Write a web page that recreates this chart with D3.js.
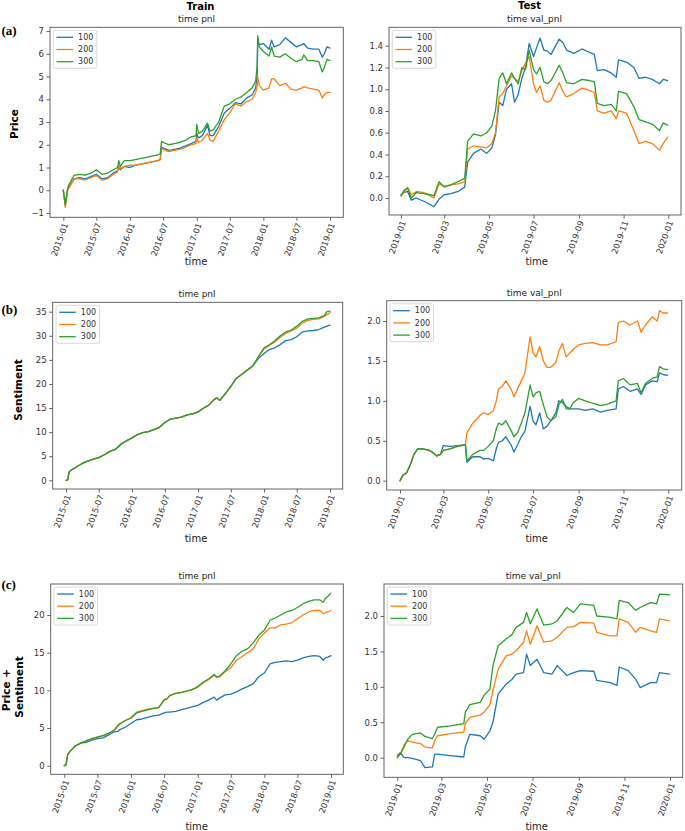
<!DOCTYPE html>
<html><head><meta charset="utf-8">
<script src="https://cdn.jsdelivr.net/npm/d3@7"></script>
<style>body{margin:0;background:#fff}svg{display:block}</style>
</head><body><svg id="c" width="685" height="831"></svg>
<script>
const seriesNames = ["100","200","300"];
const seriesColors = ["#1f77b4","#ff7f0e","#2ca02c"];

const trainTickDates = ["2015-01-01","2015-07-01","2016-01-01","2016-07-01","2017-01-01","2017-07-01","2018-01-01","2018-07-01","2019-01-01"];
const trainTickLabels = ["2015-01","2015-07","2016-01","2016-07","2017-01","2017-07","2018-01","2018-07","2019-01"];
const testTickDates = ["2019-01-01","2019-03-01","2019-05-01","2019-07-01","2019-09-01","2019-11-01","2020-01-01"];
const testTickLabels = ["2019-01","2019-03","2019-05","2019-07","2019-09","2019-11","2020-01"];

const priceTrainYTicks = [-1,0,1,2,3,4,5,6,7];
const priceTrainYLabels = ["\u22121","0","1","2","3","4","5","6","7"];
const priceTestYTicks = [0,0.2,0.4,0.6,0.8,1.0,1.2,1.4];
const priceTestYLabels = ["0.0","0.2","0.4","0.6","0.8","1.0","1.2","1.4"];
const sentTrainYTicks = [0,5,10,15,20,25,30,35];
const sentTrainYLabels = ["0","5","10","15","20","25","30","35"];
const sentTestYTicks = [0,0.5,1.0,1.5,2.0];
const sentTestYLabels = ["0.0","0.5","1.0","1.5","2.0"];
const psTrainYTicks = [0,5,10,15,20];
const psTrainYLabels = ["0","5","10","15","20"];
const psTestYTicks = [0,0.5,1.0,1.5,2.0];
const psTestYLabels = ["0.0","0.5","1.0","1.5","2.0"];

// (a) Price - Train
const trainPriceDates = ["2015-01-01","2015-01-12","2015-01-25","2015-02-01","2015-03-01","2015-04-01","2015-05-01","2015-06-01","2015-07-01","2015-08-01","2015-09-01","2015-10-01","2015-10-25","2015-11-01","2015-11-10","2015-12-01","2016-01-01","2016-02-01","2016-03-01","2016-04-01","2016-05-01","2016-06-01","2016-06-15","2016-06-22","2016-07-01","2016-08-01","2016-09-01","2016-10-01","2016-11-01","2016-12-01","2016-12-28","2017-01-01","2017-01-10","2017-02-01","2017-03-01","2017-03-15","2017-04-01","2017-05-01","2017-06-01","2017-07-01","2017-08-01","2017-09-01","2017-10-01","2017-11-01","2017-11-20","2017-11-28","2017-12-01","2017-12-10","2018-01-01","2018-02-01","2018-02-15","2018-03-01","2018-04-01","2018-05-01","2018-06-01","2018-07-01","2018-08-01","2018-08-10","2018-09-01","2018-10-01","2018-11-01","2018-11-20","2018-12-01","2018-12-15","2019-01-01"];
const trainPrice100 = [0,-0.6,0.05,0.15,0.5,0.55,0.5,0.6,0.7,0.5,0.55,0.75,0.85,1.0,0.9,1.05,1.0,1.1,1.15,1.2,1.25,1.3,1.35,1.9,1.85,1.75,1.8,1.85,1.95,2.05,2.15,2.5,2.3,2.4,2.85,2.4,2.4,2.8,3.4,3.6,3.85,3.8,4.05,4.2,4.5,5.0,6.5,6.4,6.45,6.2,6.6,6.3,6.4,6.7,6.5,6.3,6.4,6.45,6.25,6.2,6.2,5.85,6.0,6.3,6.25];
const trainPrice200 = [0,-0.75,0.0,0.1,0.5,0.5,0.45,0.55,0.65,0.45,0.5,0.7,0.8,1.1,0.95,1.05,1.1,1.1,1.15,1.2,1.25,1.3,1.35,1.85,1.8,1.7,1.75,1.8,1.9,2.0,2.05,2.3,2.1,2.2,2.5,2.2,2.15,2.6,3.1,3.4,3.8,3.7,3.9,4.0,4.3,4.6,5.0,4.6,4.4,4.5,4.9,4.9,4.6,4.7,4.45,4.4,4.5,4.55,4.5,4.45,4.4,4.05,4.2,4.3,4.3];
const trainPrice300 = [0,-0.65,0.1,0.25,0.65,0.7,0.67,0.75,0.9,0.7,0.75,0.9,1.0,1.3,1.05,1.3,1.3,1.35,1.4,1.45,1.5,1.55,1.6,2.15,2.1,2.0,2.05,2.1,2.2,2.35,2.4,2.9,2.5,2.6,2.95,2.6,2.65,3.0,3.7,3.8,4.0,4.1,4.3,4.5,4.8,5.5,6.8,6.3,6.1,5.9,6.3,5.9,5.85,6.0,5.8,5.65,5.75,5.95,5.7,5.7,5.65,5.2,5.4,5.75,5.7];

// (a) Price - Test
const testPriceDates = ["2019-01-01","2019-01-05","2019-01-10","2019-01-15","2019-01-22","2019-02-01","2019-02-10","2019-02-15","2019-02-22","2019-03-01","2019-03-10","2019-03-20","2019-03-29","2019-04-02","2019-04-10","2019-04-20","2019-04-28","2019-05-05","2019-05-10","2019-05-15","2019-05-20","2019-05-25","2019-06-01","2019-06-05","2019-06-10","2019-06-15","2019-06-20","2019-06-25","2019-07-01","2019-07-05","2019-07-10","2019-07-15","2019-07-20","2019-07-25","2019-08-05","2019-08-10","2019-08-15","2019-08-25","2019-09-05","2019-09-15","2019-09-22","2019-09-26","2019-10-05","2019-10-15","2019-10-22","2019-10-25","2019-11-05","2019-11-15","2019-11-22","2019-12-01","2019-12-10","2019-12-20","2019-12-25","2019-12-31"];
const testPrice100 = [0.03,0.05,0.06,-0.02,0.0,-0.03,-0.06,-0.08,-0.01,0.03,0.04,0.06,0.1,0.33,0.41,0.45,0.41,0.46,0.58,0.88,0.85,1.0,1.05,0.88,0.95,1.1,1.2,1.42,1.3,1.38,1.47,1.36,1.35,1.32,1.46,1.43,1.36,1.33,1.37,1.34,1.32,1.17,1.18,1.15,1.11,1.27,1.25,1.2,1.1,1.11,1.09,1.05,1.09,1.08];
const testPrice200 = [0.02,0.05,0.1,0.03,0.06,0.05,0.02,0.0,0.13,0.11,0.12,0.13,0.15,0.45,0.48,0.47,0.46,0.5,0.6,0.93,0.96,1.03,1.12,1.1,1.07,1.17,1.24,1.3,1.05,0.97,1.03,0.9,0.88,0.9,1.06,0.98,0.93,0.96,1.01,0.99,0.97,0.8,0.78,0.8,0.73,0.8,0.78,0.62,0.5,0.52,0.5,0.44,0.5,0.56];
const testPrice300 = [0.02,0.07,0.09,0.0,0.05,0.04,0.03,0.02,0.15,0.1,0.12,0.15,0.18,0.52,0.59,0.57,0.6,0.66,0.8,1.1,1.15,1.05,1.15,1.1,1.05,1.2,1.18,1.36,1.18,1.14,1.2,1.07,1.05,1.08,1.22,1.15,1.06,1.05,1.09,1.08,1.07,0.87,0.85,0.86,0.8,0.98,0.96,0.84,0.72,0.7,0.68,0.62,0.69,0.67];

// (b) Sentiment - Train
const trainSentDates = ["2015-01-01","2015-01-10","2015-01-18","2015-02-01","2015-03-01","2015-04-01","2015-05-01","2015-06-01","2015-07-01","2015-08-01","2015-09-01","2015-10-01","2015-11-01","2015-12-01","2016-01-01","2016-02-01","2016-03-01","2016-04-01","2016-05-01","2016-06-01","2016-07-01","2016-08-01","2016-09-01","2016-10-01","2016-11-01","2016-12-01","2017-01-01","2017-02-01","2017-03-01","2017-04-01","2017-04-15","2017-05-01","2017-06-01","2017-07-01","2017-08-01","2017-09-01","2017-10-01","2017-11-01","2017-12-01","2018-01-01","2018-02-01","2018-03-01","2018-04-01","2018-05-01","2018-06-01","2018-07-01","2018-08-01","2018-09-01","2018-10-01","2018-11-01","2018-12-01","2018-12-15","2019-01-01"];
const trainSent100 = [0,0.1,1.7,2.2,2.8,3.5,4.0,4.4,4.7,5.3,6.0,6.4,7.5,8.2,8.8,9.5,9.9,10.1,10.5,11.0,12.0,12.7,12.9,13.1,13.6,13.8,14.2,15.0,15.6,16.8,17.1,16.6,18.0,19.5,21.2,22.0,22.9,23.8,25.3,26.3,27.2,27.5,28.2,29.0,29.2,29.8,30.8,31.0,31.1,31.3,31.8,32.0,32.2];
const trainSent200 = [0,0.1,1.7,2.2,2.8,3.5,4.0,4.4,4.7,5.3,6.0,6.4,7.5,8.2,8.8,9.5,9.9,10.1,10.5,11.0,12.0,12.7,12.9,13.1,13.6,13.8,14.2,15.0,15.6,16.8,17.1,16.6,18.0,19.5,21.2,22.0,22.9,23.8,25.6,27.3,28.0,28.7,29.7,30.5,31.0,31.6,32.6,33.2,33.4,33.5,34.0,34.4,34.8];
const trainSent300 = [0,0.1,1.7,2.2,2.8,3.5,4.0,4.4,4.7,5.3,6.0,6.4,7.5,8.2,8.8,9.5,9.9,10.1,10.5,11.0,12.0,12.7,12.9,13.1,13.6,13.8,14.2,15.0,15.6,16.8,17.1,16.6,18.0,19.5,21.2,22.0,22.9,23.8,25.7,27.5,28.2,28.9,30.0,30.8,31.2,32.0,33.0,33.5,33.6,33.7,34.2,35.0,35.1];

// (b) Sentiment - Test
const testSentDates = ["2019-01-01","2019-01-05","2019-01-10","2019-01-15","2019-01-20","2019-01-25","2019-02-01","2019-02-10","2019-02-15","2019-02-20","2019-02-25","2019-03-01","2019-03-10","2019-03-20","2019-03-31","2019-04-02","2019-04-10","2019-04-20","2019-04-25","2019-05-01","2019-05-08","2019-05-12","2019-05-15","2019-05-20","2019-05-25","2019-06-01","2019-06-05","2019-06-10","2019-06-15","2019-06-20","2019-06-27","2019-07-01","2019-07-05","2019-07-10","2019-07-15","2019-07-20","2019-07-25","2019-08-01","2019-08-05","2019-08-10","2019-08-15","2019-08-20","2019-08-25","2019-09-01","2019-09-10","2019-09-20","2019-10-01","2019-10-10","2019-10-22","2019-10-25","2019-11-01","2019-11-10","2019-11-20","2019-11-25","2019-12-01","2019-12-10","2019-12-17","2019-12-20","2019-12-25","2019-12-31"];
const testSent100 = [0.0,0.07,0.1,0.2,0.33,0.4,0.4,0.38,0.35,0.31,0.33,0.44,0.43,0.44,0.45,0.23,0.3,0.3,0.27,0.28,0.25,0.4,0.48,0.5,0.55,0.45,0.36,0.45,0.55,0.62,0.93,0.75,0.7,0.85,0.65,0.68,0.75,0.85,1.0,0.98,0.93,0.9,0.9,0.9,0.88,0.9,0.86,0.88,0.9,1.15,1.18,1.12,1.15,1.08,1.2,1.25,1.24,1.35,1.33,1.32];
const testSent200 = [0.0,0.07,0.1,0.2,0.33,0.4,0.4,0.38,0.35,0.31,0.33,0.38,0.4,0.43,0.45,0.6,0.72,0.82,0.85,0.83,0.88,1.0,1.15,1.18,1.25,1.15,1.05,1.15,1.25,1.35,1.8,1.6,1.55,1.68,1.5,1.42,1.42,1.48,1.62,1.72,1.55,1.6,1.65,1.7,1.72,1.73,1.7,1.7,1.74,1.98,2.0,1.95,2.0,1.86,1.95,2.05,2.0,2.13,2.1,2.1];
const testSent300 = [0.0,0.07,0.1,0.2,0.33,0.4,0.4,0.38,0.35,0.31,0.33,0.38,0.4,0.43,0.45,0.25,0.33,0.38,0.38,0.43,0.5,0.65,0.72,0.7,0.75,0.63,0.55,0.6,0.72,0.85,1.2,1.05,1.1,1.12,0.95,0.8,0.75,0.8,0.95,1.02,0.9,0.9,0.98,1.03,1.0,0.97,0.94,0.96,1.0,1.25,1.28,1.2,1.22,1.1,1.22,1.28,1.3,1.43,1.4,1.39];

// (c) Price + Sentiment - Train
const trainPSDates = ["2015-01-01","2015-01-10","2015-01-20","2015-02-01","2015-03-01","2015-04-01","2015-05-01","2015-06-01","2015-07-01","2015-08-01","2015-09-01","2015-10-01","2015-10-25","2015-11-01","2015-12-01","2016-01-01","2016-02-01","2016-03-01","2016-04-01","2016-05-01","2016-06-01","2016-07-01","2016-07-15","2016-08-01","2016-09-01","2016-10-01","2016-11-01","2016-12-01","2017-01-01","2017-02-01","2017-03-01","2017-04-01","2017-04-15","2017-05-01","2017-06-01","2017-07-01","2017-08-01","2017-09-01","2017-10-01","2017-11-01","2017-12-01","2018-01-01","2018-02-01","2018-03-01","2018-04-01","2018-05-01","2018-06-01","2018-07-01","2018-08-01","2018-09-01","2018-10-01","2018-11-01","2018-11-20","2018-12-01","2018-12-15","2019-01-01"];
const trainPS100 = [0,0.1,1.5,1.9,2.6,3.0,3.1,3.4,3.6,3.7,4.1,4.5,4.6,4.8,5.1,5.6,6.1,6.2,6.4,6.6,6.7,7.0,7.1,7.1,7.2,7.4,7.6,7.8,8.0,8.4,8.7,9.1,8.7,9.0,9.4,9.5,9.8,10.2,10.5,10.9,11.8,12.3,13.5,13.7,13.8,13.9,13.8,14.0,14.3,14.5,14.6,14.5,14.0,14.3,14.4,14.6];
const trainPS200 = [0,0.1,1.5,1.9,2.6,3.0,3.3,3.6,3.8,4.0,4.3,4.7,5.5,5.6,6.0,6.4,7.1,7.3,7.5,7.6,7.7,8.8,8.9,9.3,9.6,9.7,9.9,10.1,10.4,11.0,11.4,12.0,11.7,11.8,12.5,13.0,14.0,14.5,15.0,15.5,16.8,17.6,18.3,18.3,18.7,18.8,19.0,19.5,20.0,20.4,20.6,20.6,20.2,20.3,20.4,20.6];
const trainPS300 = [0,0.1,1.5,1.9,2.6,3.0,3.3,3.6,3.8,4.0,4.3,4.7,5.4,5.5,6.0,6.3,7.0,7.2,7.4,7.6,7.7,8.7,8.8,9.3,9.6,9.7,9.9,10.1,10.5,11.1,11.5,12.1,11.8,11.9,12.6,13.5,14.6,15.2,15.5,16.3,17.3,18.0,19.3,19.6,20.0,20.4,20.6,21.0,21.5,21.8,22.0,22.0,21.7,22.2,22.5,22.9];

// (c) Price + Sentiment - Test
const testPSDates = ["2019-01-01","2019-01-05","2019-01-10","2019-01-15","2019-01-21","2019-02-01","2019-02-07","2019-02-17","2019-02-20","2019-02-24","2019-03-13","2019-03-31","2019-04-02","2019-04-08","2019-04-22","2019-04-27","2019-05-05","2019-05-09","2019-05-16","2019-05-27","2019-06-03","2019-06-09","2019-06-19","2019-06-23","2019-06-28","2019-07-07","2019-07-16","2019-07-27","2019-08-03","2019-08-16","2019-08-25","2019-09-03","2019-09-21","2019-09-25","2019-10-13","2019-10-22","2019-10-25","2019-11-06","2019-11-16","2019-11-22","2019-12-06","2019-12-14","2019-12-18","2019-12-31"];
const testPS100 = [0.03,0.07,0.0,0.0,-0.01,-0.04,-0.14,-0.13,0.05,0.05,0.03,0.01,0.15,0.33,0.31,0.26,0.38,0.5,0.9,1.04,1.1,1.18,1.2,1.46,1.3,1.39,1.2,1.18,1.3,1.16,1.2,1.23,1.22,1.09,1.06,1.02,1.28,1.23,1.11,0.99,1.06,1.06,1.2,1.18];
const testPS200 = [0.02,0.05,0.18,0.24,0.22,0.2,0.15,0.14,0.24,0.31,0.34,0.36,0.48,0.57,0.6,0.64,0.75,0.95,1.25,1.44,1.46,1.51,1.63,1.79,1.6,1.86,1.63,1.65,1.7,1.84,1.85,1.91,1.9,1.77,1.72,1.72,1.96,1.91,1.77,1.84,1.79,1.77,1.96,1.93];
const testPS300 = [0.0,0.05,0.15,0.26,0.33,0.35,0.3,0.27,0.33,0.43,0.45,0.48,0.64,0.75,0.78,0.88,0.97,1.3,1.58,1.68,1.73,1.84,1.91,2.05,1.89,2.1,1.87,1.89,1.93,2.12,2.05,2.17,2.15,2.0,1.98,1.96,2.22,2.19,2.08,2.12,2.19,2.17,2.31,2.3];

// ---------- layout ----------
const parse = d3.timeParse("%Y-%m-%d");
const FONT = "DejaVu Sans";
const panels = [
  {dates:trainPriceDates, series:[trainPrice100,trainPrice200,trainPrice300], frame:[50,343.3,27.3,217.3],
   xDom:["2015-01-01","2019-01-01"], xR:[63.3,330], yDom:[-1,7], yR:[213,31],
   yTicks:priceTrainYTicks, yLabels:priceTrainYLabels, xTicks:trainTickDates, xLabels:trainTickLabels,
   title:"time pnl", titleX:196.5, xlabX:196, xlabY:261.7},
  {dates:testPriceDates, series:[testPrice100,testPrice200,testPrice300], frame:[389,681,27.3,215],
   xDom:["2019-01-01","2020-01-01"], xR:[401,668.3], yDom:[0,1.4], yR:[198,45.7],
   yTicks:priceTestYTicks, yLabels:priceTestYLabels, xTicks:testTickDates, xLabels:testTickLabels,
   title:"time val_pnl", titleX:534.5, xlabX:536.7, xlabY:261.7},
  {dates:trainSentDates, series:[trainSent100,trainSent200,trainSent300], frame:[52.7,342.7,302.3,489],
   xDom:["2015-01-01","2019-01-01"], xR:[66,330], yDom:[0,35], yR:[480.3,311.7],
   yTicks:sentTrainYTicks, yLabels:sentTrainYLabels, xTicks:trainTickDates, xLabels:trainTickLabels,
   title:"time pnl", titleX:197, xlabX:196, xlabY:538.3},
  {dates:testSentDates, series:[testSent100,testSent200,testSent300], frame:[386.7,681.7,300.7,490],
   xDom:["2019-01-01","2020-01-01"], xR:[400,668.3], yDom:[0,2], yR:[480.7,321],
   yTicks:sentTestYTicks, yLabels:sentTestYLabels, xTicks:testTickDates, xLabels:testTickLabels,
   title:"time val_pnl", titleX:534.3, xlabX:536.7, xlabY:538.3},
  {dates:trainPSDates, series:[trainPS100,trainPS200,trainPS300], frame:[50.7,343.3,584,774.3],
   xDom:["2015-01-01","2019-01-01"], xR:[64.3,331], yDom:[0,20], yR:[765.7,615],
   yTicks:psTrainYTicks, yLabels:psTrainYLabels, xTicks:trainTickDates, xLabels:trainTickLabels,
   title:"time pnl", titleX:197, xlabX:196.7, xlabY:826},
  {dates:testPSDates, series:[testPS100,testPS200,testPS300], frame:[384,682.7,584,777.3],
   xDom:["2019-01-01","2020-01-01"], xR:[397.3,670], yDom:[0,2], yR:[757.7,616],
   yTicks:psTestYTicks, yLabels:psTestYLabels, xTicks:testTickDates, xLabels:testTickLabels,
   title:"time val_pnl", titleX:533.3, xlabX:536.7, xlabY:826}
];

const svg = d3.select("#c");
svg.append("rect").attr("width",685).attr("height",831).attr("fill","#fff");

panels.forEach(p => {
  const [L,R,T,B] = p.frame;
  const x = d3.scaleTime().domain(p.xDom.map(parse)).range(p.xR);
  const y = d3.scaleLinear().domain(p.yDom).range(p.yR);
  const g = svg.append("g");

  const line = d3.line().x(d => x(d[0])).y(d => y(d[1]));
  p.series.forEach((vals,i) => {
    const pts = p.dates.map((d,j) => [parse(d), vals[j]]);
    g.append("path").attr("d", line(pts)).attr("fill","none")
      .attr("stroke", seriesColors[i]).attr("stroke-width",1.3)
      .attr("stroke-linejoin","round").attr("stroke-linecap","round");
  });

  g.append("rect").attr("x",L).attr("y",T).attr("width",R-L).attr("height",B-T)
    .attr("fill","none").attr("stroke","#555").attr("stroke-width",0.9);

  const ya = d3.axisLeft(y).tickValues(p.yTicks).tickFormat((d,i) => p.yLabels[i]).tickSize(3.5).tickPadding(2.5);
  g.append("g").attr("transform",`translate(${L},0)`).call(ya).call(a => {
    a.select(".domain").remove();
    a.selectAll(".tick line").attr("stroke","#555").attr("stroke-width",0.9);
    a.selectAll(".tick text").attr("font-family",FONT).attr("font-size",8.5).attr("fill","#333");
  });

  const xa = d3.axisBottom(x).tickValues(p.xTicks.map(parse)).tickFormat((d,i) => p.xLabels[i]).tickSize(3.5);
  g.append("g").attr("transform",`translate(0,${B})`).call(xa).call(a => {
    a.select(".domain").remove();
    a.selectAll(".tick line").attr("stroke","#555").attr("stroke-width",0.9);
    a.selectAll(".tick text").attr("font-family",FONT).attr("font-size",8.3).attr("fill","#333")
      .attr("y",0).attr("dy","0.35em").attr("text-anchor","end")
      .attr("transform","translate(1.8,6) rotate(-70)");
  });

  g.append("text").attr("x",p.titleX).attr("y",T-5).attr("text-anchor","middle")
    .attr("font-family",FONT).attr("font-size",9).attr("fill","#222").text(p.title);
  g.append("text").attr("x",p.xlabX).attr("y",p.xlabY+3.5).attr("text-anchor","middle")
    .attr("font-family",FONT).attr("font-size",10).attr("fill","#222").text("time");

  const lg = g.append("g").attr("transform",`translate(${L+3.3},${T+3})`);
  lg.append("rect").attr("width",43.5).attr("height",38).attr("rx",2)
    .attr("fill","#fff").attr("fill-opacity",0.85).attr("stroke","#d0d0d0").attr("stroke-width",0.8);
  seriesNames.forEach((n,i) => {
    const yy = 7 + i*12.2;
    lg.append("line").attr("x1",3.2).attr("x2",19.8).attr("y1",yy).attr("y2",yy)
      .attr("stroke",seriesColors[i]).attr("stroke-width",1.3);
    lg.append("text").attr("x",24.8).attr("y",yy).attr("dy","0.35em")
      .attr("font-family",FONT).attr("font-size",8).attr("fill","#333").text(n);
  });
});

// column headers
svg.append("text").attr("x",200.5).attr("y",9.5).attr("text-anchor","middle")
  .attr("font-family",FONT).attr("font-weight","bold").attr("font-size",10).text("Train");
svg.append("text").attr("x",529.5).attr("y",9).attr("text-anchor","middle")
  .attr("font-family",FONT).attr("font-weight","bold").attr("font-size",10).text("Test");

// panel letters
[["(a)",35],["(b)",313.5],["(c)",589]].forEach(([t,yy]) => {
  svg.append("text").attr("x",1.5).attr("y",yy).attr("font-family","Liberation Serif")
    .attr("font-weight","bold").attr("font-size",13).text(t);
});

// row labels
function rowLabel(txt, cx, cy){
  svg.append("text").attr("transform",`translate(${cx},${cy}) rotate(-90)`)
    .attr("text-anchor","middle").attr("dominant-baseline","central")
    .attr("font-family",FONT).attr("font-weight","bold").attr("font-size",10.5).text(txt);
}
rowLabel("Price",13.5,124);
rowLabel("Sentiment",18.3,390);
rowLabel("Price +",6,690);
rowLabel("Sentiment",19,687);
</script></body></html>
